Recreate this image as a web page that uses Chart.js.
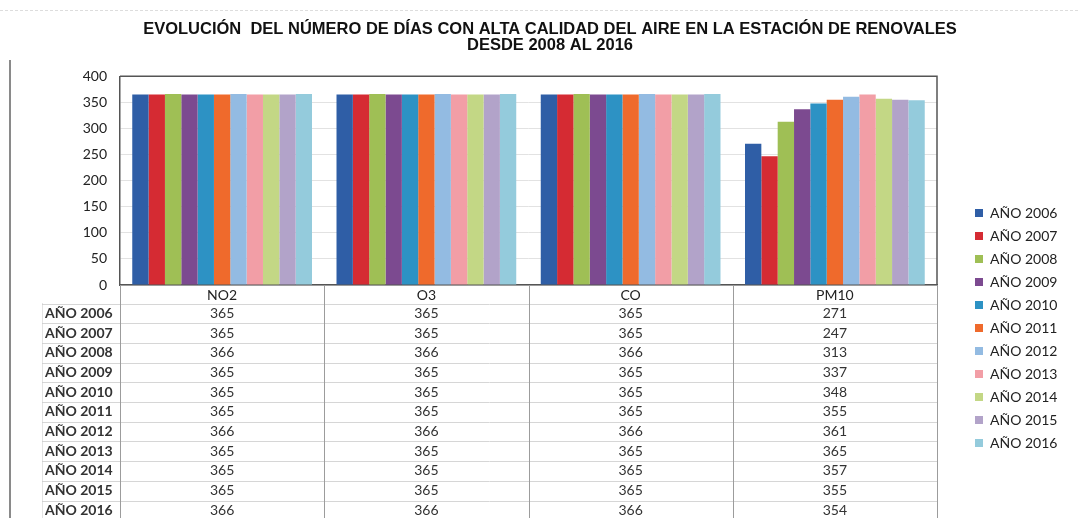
<!DOCTYPE html>
<html>
<head>
<meta charset="utf-8">
<script src="https://cdn.jsdelivr.net/npm/chart.js@4/dist/chart.umd.min.js"></script>
<style>
  body { margin: 0; background: #fff; }
  #wrap { width: 1078px; height: 518px; position: relative; }
</style>
</head>
<body>
<div id="wrap"><canvas id="airChart"></canvas></div>
<script>
const categories = ['NO2', 'O3', 'CO', 'PM10'];
const years = ['AÑO 2006', 'AÑO 2007', 'AÑO 2008', 'AÑO 2009', 'AÑO 2010', 'AÑO 2011',
               'AÑO 2012', 'AÑO 2013', 'AÑO 2014', 'AÑO 2015', 'AÑO 2016'];

// dias con alta calidad del aire: NO2, O3, CO, PM10
const ano2006 = [365, 365, 365, 271];
const ano2007 = [365, 365, 365, 247];
const ano2008 = [366, 366, 366, 313];
const ano2009 = [365, 365, 365, 337];
const ano2010 = [365, 365, 365, 348];
const ano2011 = [365, 365, 365, 355];
const ano2012 = [366, 366, 366, 361];
const ano2013 = [365, 365, 365, 365];
const ano2014 = [365, 365, 365, 357];
const ano2015 = [365, 365, 365, 355];
const ano2016 = [366, 366, 366, 354];
const seriesValues = [ano2006, ano2007, ano2008, ano2009, ano2010, ano2011,
                      ano2012, ano2013, ano2014, ano2015, ano2016];

const yMin = 0;
const yMax = 400;
const yStep = 50;

const colors = ['#2f5ea6', '#d52b33', '#9fbf55', '#7c4a90', '#2d92c4', '#ef6a2c',
                '#93bbe2', '#f29ea6', '#c3d785', '#b2a3c9', '#94cbdc'];

const bodyFont = 'Lato';

// tabla de datos bajo el eje X
const tablePlugin = {
    id: 'dataTable',
    afterDraw(chart) {
        const ctx = chart.ctx;
        const x = chart.scales.x;
        const area = chart.chartArea;
        const rowH = 19.7;
        const headBottom = area.bottom + 18.5;
        const catW = (x.right - x.left) / categories.length;
        const labelLeft = 42;

        ctx.save();
        ctx.lineWidth = 1;
        ctx.strokeStyle = '#d6d6d6';
        for (let r = 0; r <= years.length; r++) {
            const y = Math.round(headBottom + r * rowH) + 0.5;
            ctx.beginPath();
            ctx.moveTo(labelLeft, y);
            ctx.lineTo(x.right, y);
            ctx.stroke();
        }
        ctx.strokeStyle = '#c8c8c8';
        ctx.setLineDash([1, 1]);
        ctx.beginPath();
        ctx.moveTo(labelLeft + 0.5, headBottom);
        ctx.lineTo(labelLeft + 0.5, chart.height);
        ctx.stroke();
        ctx.setLineDash([]);

        ctx.strokeStyle = '#9c9c9c';
        for (let c = 0; c <= categories.length; c++) {
            const xx = Math.round(x.left + c * catW) + 0.5;
            ctx.beginPath();
            ctx.moveTo(xx, area.bottom);
            ctx.lineTo(xx, chart.height);
            ctx.stroke();
        }

        ctx.textBaseline = 'middle';
        years.forEach((yr, r) => {
            const cy = headBottom + r * rowH + rowH / 2;
            ctx.fillStyle = '#333';
            ctx.font = 'bold 14px ' + bodyFont;
            ctx.textAlign = 'left';
            ctx.fillText(yr, labelLeft + 3, cy);
            ctx.font = '14px ' + bodyFont;
            ctx.textAlign = 'center';
            seriesValues[r].forEach((v, c) => {
                ctx.fillText(String(v), x.getPixelForValue(c), cy);
            });
        });
        ctx.restore();
    }
};

// leyenda a la derecha y marco del grafico
const sidePlugin = {
    id: 'sideLegend',
    afterDraw(chart) {
        const ctx = chart.ctx;
        const area = chart.chartArea;
        ctx.save();
        ctx.strokeStyle = '#555';
        ctx.lineWidth = 1.5;
        ctx.beginPath();
        ctx.moveTo(area.left, area.top);
        ctx.lineTo(area.right, area.top);
        ctx.lineTo(area.right, area.bottom);
        ctx.stroke();

        ctx.strokeStyle = '#8a8a8a';
        ctx.lineWidth = 2;
        ctx.beginPath();
        ctx.moveTo(10, 60);
        ctx.lineTo(10, chart.height);
        ctx.stroke();

        ctx.strokeStyle = '#dddddd';
        ctx.lineWidth = 1;
        ctx.setLineDash([3, 2]);
        ctx.beginPath();
        ctx.moveTo(0, 10.5);
        ctx.lineTo(chart.width, 10.5);
        ctx.stroke();
        ctx.setLineDash([]);

        ctx.font = '14px ' + bodyFont;
        ctx.textBaseline = 'middle';
        ctx.textAlign = 'left';
        chart.data.datasets.forEach((ds, i) => {
            const cy = 213 + i * 23;
            ctx.fillStyle = ds.backgroundColor;
            ctx.fillRect(975, cy - 4, 8, 8);
            ctx.fillStyle = '#222';
            ctx.fillText(ds.label, 990, cy);
        });
        ctx.restore();
    }
};

const canvas = document.getElementById('airChart');

new Chart(canvas, {
    type: 'bar',
    data: {
        labels: categories,
        datasets: years.map((yr, i) => ({
            label: yr,
            data: seriesValues[i],
            backgroundColor: colors[i],
            borderWidth: 0,
            categoryPercentage: 0.88,
            barPercentage: 1.0
        }))
    },
    options: {
        responsive: true,
        maintainAspectRatio: false,
        animation: false,
        layout: {
            padding: { left: 22, right: 0, top: 0, bottom: 213 }
        },
        plugins: {
            legend: { display: false },
            tooltip: { enabled: false },
            title: {
                display: true,
                text: ['EVOLUCIÓN  DEL NÚMERO DE DÍAS CON ALTA CALIDAD DEL AIRE EN LA ESTACIÓN DE RENOVALES',
                       'DESDE 2008 AL 2016'],
                color: '#111',
                font: { family: 'Liberation Sans', size: 16.5, weight: 'bold', lineHeight: 0.95 },
                padding: { top: 22, bottom: 23 }
            }
        },
        scales: {
            x: {
                grid: { display: false, drawTicks: false },
                border: { display: true, color: '#555', width: 1.5 },
                ticks: { color: '#222', font: { family: bodyFont, size: 14 }, padding: 2 },
                afterFit(scale) { scale.height = 20; }
            },
            y: {
                min: yMin,
                max: yMax,
                ticks: { stepSize: yStep, color: '#222', font: { family: bodyFont, size: 14 }, padding: 13 },
                grid: { color: '#e2e2e2', drawTicks: false },
                border: { display: true, color: '#555', width: 1.5 },
                afterFit(scale) { scale.width = 98; }
            },
            spacer: {
                type: 'linear',
                position: 'right',
                display: true,
                grid: { display: false },
                border: { display: false },
                ticks: { display: false },
                afterFit(scale) { scale.width = 141; }
            }
        }
    },
    plugins: [tablePlugin, sidePlugin]
});
</script>
</body>
</html>
